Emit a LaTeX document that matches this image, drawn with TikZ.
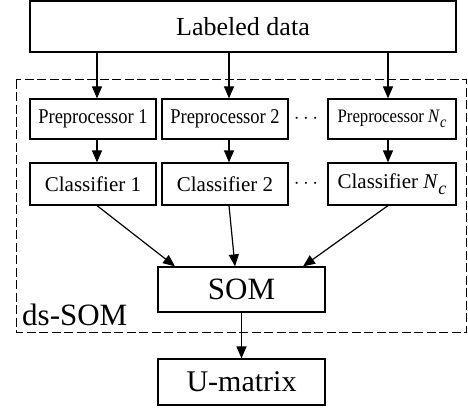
\documentclass[tikz,border=0pt]{standalone}
\usepackage{fontspec}
\setmainfont{Liberation Serif}
\usepackage{graphicx}
\usetikzlibrary{arrows.meta,calc}

% font size helper (size = leading)
\newcommand{\fs}[1]{\fontsize{#1}{#1}\selectfont}
% horizontally condensed label text
\newcommand{\narrow}[1]{\scalebox{0.88}[1]{#1}}
% italic N with lowered italic c
\newcommand{\Nsub}[1]{\textit{N}\raisebox{-0.3em}{\fontsize{#1}{#1}\selectfont\textit{c}}}

\begin{document}
\begin{tikzpicture}[x=1pt,y=-1pt,
  box/.style={draw,line width=1.2pt,inner sep=0pt,fill=white},
  rowbox/.style={box,minimum width=126pt,minimum height=40pt},
  arr/.style={line width=1.2pt,-{Triangle[length=12pt,width=10pt]}}]
\useasboundingbox (0,0) rectangle (468,409);

% dashed frame of the ds-SOM block
\draw[line width=1pt,dash pattern=on 9pt off 3.5pt] (16,80) rectangle (466.5,332);
\node[anchor=base west,inner sep=0pt,font=\fs{31}] (ds) at (22,325) {ds-SOM};

% input
\node[box,minimum width=426pt,minimum height=51pt,font=\fs{26}] (data) at (243,26.5) {Labeled data};

% preprocessors
\node[rowbox,font=\fs{21}] (p1) at (93,119) {\narrow{Preprocessor 1}};
\node[rowbox,font=\fs{21}] (p2) at (225,119) {\narrow{Preprocessor 2}};
\node[rowbox,minimum width=128pt,font=\fs{19}] (p3) at (392,119) {\narrow{Preprocessor \Nsub{16}}};
\node[inner sep=0pt,font=\fs{21}] (pd) at (306,119) {$\cdots$};

% classifiers
\node[rowbox,minimum height=42pt,font=\fs{21}] (c1) at (93,184) {Classifier 1};
\node[rowbox,minimum height=42pt,font=\fs{21}] (c2) at (225,184) {Classifier 2};
\node[rowbox,minimum width=128pt,minimum height=42pt,font=\fs{21}] (c3) at (392,184) {Classifier \Nsub{18}};
\node[inner sep=0pt,font=\fs{21}] (cd) at (306,184) {$\cdots$};

% SOM and U-matrix
\node[box,minimum width=167pt,minimum height=45pt,font=\fs{31}] (som) at (241.5,289.5) {SOM};
\node[box,minimum width=167pt,minimum height=46pt,font=\fs{30}] (um) at (241.5,382) {U-matrix};

% connector columns
\coordinate (x1) at (97,0);
\coordinate (x2) at (229,0);
\coordinate (x3) at (388,0);
\coordinate (s1) at (175,0);
\coordinate (s2) at (235,0);
\coordinate (s3) at (303,0);

\foreach \i in {1,2,3}{
  \draw[arr] (data.south -| x\i) -- (p\i.north -| x\i);
  \draw[arr] (p\i.south -| x\i) -- (c\i.north -| x\i);
  \draw[arr] (c\i.south -| x\i) -- (som.north -| s\i);
}
\draw[arr] (som.south) -- (um.north);
\end{tikzpicture}
\end{document}
